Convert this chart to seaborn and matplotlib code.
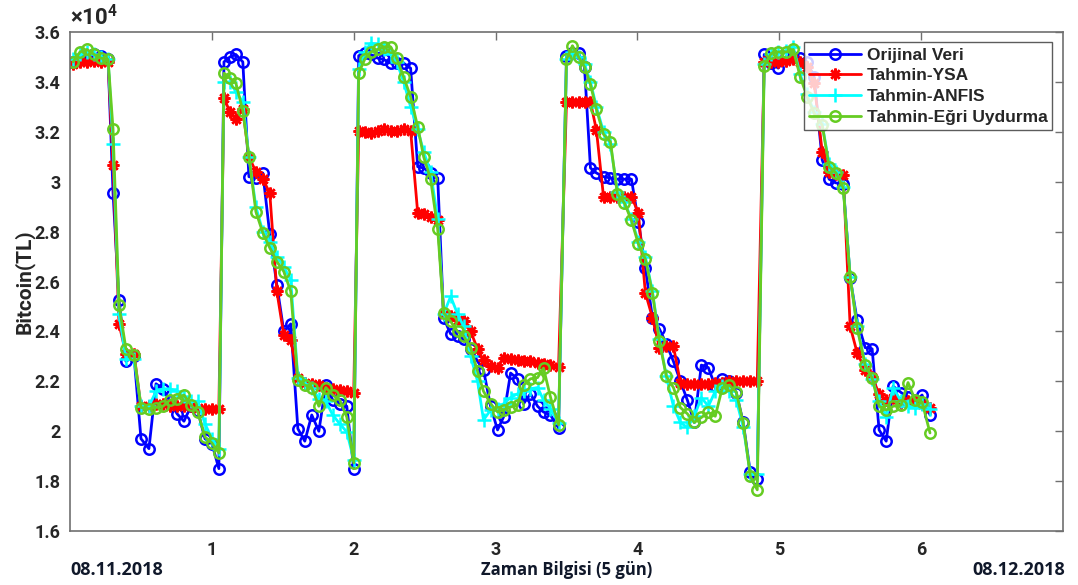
import matplotlib
matplotlib.use("Agg")
import matplotlib.pyplot as plt
import seaborn as sns
import pandas as pd
from matplotlib.ticker import FormatStrFormatter, FixedLocator

# ---- data (time in "day" units, price in x10^4 TL) ----
zaman = [
    0.021, 0.070, 0.120, 0.169, 0.218, 0.268, 0.303, 0.345, 0.394, 0.451, 0.500,
    0.556, 0.606, 0.655, 0.704, 0.754, 0.803, 0.852, 0.901, 0.951, 1.000, 1.049,
    1.085, 1.127, 1.169, 1.218, 1.261, 1.310, 1.359, 1.408, 1.458, 1.507, 1.556,
    1.606, 1.655, 1.704, 1.754, 1.803, 1.852, 1.901, 1.951, 2.000,
    2.035, 2.077, 2.120, 2.169, 2.211, 2.261, 2.303, 2.352, 2.401, 2.451, 2.493,
    2.542, 2.592, 2.634, 2.683, 2.732, 2.775, 2.824, 2.873, 2.915, 2.965, 3.014,
    3.056, 3.106, 3.155, 3.197, 3.246, 3.296, 3.338, 3.387, 3.444,
    3.500, 3.542, 3.585, 3.627, 3.669, 3.711, 3.761, 3.810, 3.859, 3.908, 3.958,
    4.007, 4.056, 4.106, 4.155, 4.204, 4.254, 4.303, 4.352, 4.401, 4.451, 4.500,
    4.549, 4.599, 4.648, 4.697, 4.746, 4.796, 4.845,
    4.894, 4.944, 4.993, 5.049, 5.099, 5.148, 5.197, 5.246, 5.303, 5.352, 5.401,
    5.451, 5.500, 5.549, 5.606, 5.655, 5.704, 5.754, 5.803, 5.859, 5.908, 5.958,
    6.007, 6.063,
]

orijinal = [
    3.48, 3.49, 3.505, 3.51, 3.505, 3.49, 2.955, 2.525, 2.28, 2.30, 1.97,
    1.93, 2.19, 2.17, 2.12, 2.07, 2.04, 2.10, 2.08, 1.97, 1.95, 1.85,
    3.48, 3.50, 3.51, 3.48, 3.02, 3.015, 3.035, 2.79, 2.586, 2.40, 2.43,
    2.01, 1.96, 2.065, 2.00, 2.185, 2.125, 2.11, 2.10, 1.85,
    3.505, 3.515, 3.51, 3.495, 3.49, 3.475, 3.475, 3.475, 3.455, 3.06, 3.055,
    3.035, 3.015, 2.454, 2.39, 2.38, 2.37, 2.33, 2.28, 2.245, 2.10, 2.005,
    2.057, 2.233, 2.21, 2.11, 2.15, 2.10, 2.077, 2.065, 2.013,
    3.505, 3.515, 3.515, 3.46, 3.055, 3.035, 3.02, 3.015, 3.01, 3.01, 3.01,
    2.84, 2.655, 2.455, 2.41, 2.35, 2.28, 2.20, 2.125, 2.035, 2.265, 2.255,
    2.18, 2.21, 2.20, 2.155, 2.035, 1.835, 1.81,
    3.51, 3.475, 3.455, 3.50, 3.50, 3.495, 3.48, 3.42, 3.087, 3.01, 2.995,
    2.99, 2.615, 2.445, 2.335, 2.33, 2.005, 1.96, 2.18, 2.155, 2.137, 2.12,
    2.145, 2.065,
]

tahmin_ysa = [
    3.47, 3.48, 3.48, 3.485, 3.48, 3.48, 3.065, 2.43, 2.31, 2.31, 2.10,
    2.10, 2.11, 2.11, 2.10, 2.10, 2.10, 2.10, 2.095, 2.09, 2.09, 2.09,
    3.335, 3.28, 3.25, 3.29, 3.10, 3.04, 3.01, 2.955, 2.56, 2.385, 2.365,
    2.215, 2.195, 2.19, 2.185, 2.175, 2.17, 2.165, 2.16, 2.155,
    3.205, 3.20, 3.195, 3.205, 3.21, 3.205, 3.205, 3.21, 3.205, 2.875, 2.87,
    2.86, 2.847, 2.47, 2.46, 2.445, 2.44, 2.40, 2.33, 2.285, 2.26, 2.255,
    2.295, 2.29, 2.285, 2.28, 2.28, 2.275, 2.27, 2.265, 2.257,
    3.32, 3.32, 3.32, 3.32, 3.32, 3.207, 2.94, 2.94, 2.94, 2.94, 2.94,
    2.875, 2.555, 2.455, 2.335, 2.34, 2.34, 2.195, 2.19, 2.19, 2.19, 2.19,
    2.195, 2.195, 2.20, 2.20, 2.20, 2.20, 2.20,
    3.48, 3.48, 3.48, 3.485, 3.49, 3.48, 3.46, 3.395, 3.12, 3.04, 3.03,
    3.027, 2.42, 2.315, 2.245, 2.217, 2.15, 2.125, 2.133, 2.113, 2.12, 2.125,
    2.11, 2.093,
]

tahmin_anfis = [
    3.49, 3.51, 3.52, 3.51, 3.50, 3.49, 3.15, 2.47, 2.29, 2.29, 2.10,
    2.10, 2.16, 2.17, 2.17, 2.16, 2.14, 2.12, 2.12, 2.03, 1.97, 1.93,
    3.40, 3.40, 3.36, 3.32, 3.10, 2.90, 2.80, 2.76, 2.70, 2.66, 2.605,
    2.215, 2.19, 2.175, 2.13, 2.12, 2.065, 2.03, 1.997, 1.885,
    3.45, 3.52, 3.555, 3.55, 3.53, 3.51, 3.48, 3.40, 3.30, 3.21, 3.12,
    3.04, 2.85, 2.47, 2.54, 2.47, 2.42, 2.30, 2.20, 2.045, 2.085, 2.09,
    2.11, 2.135, 2.15, 2.16, 2.17, 2.175, 2.125, 2.09, 2.033,
    3.49, 3.52, 3.50, 3.47, 3.40, 3.30, 3.20, 3.15, 2.96, 2.92, 2.85,
    2.76, 2.70, 2.56, 2.37, 2.22, 2.10, 2.035, 2.015, 2.06, 2.135, 2.10,
    2.16, 2.18, 2.16, 2.125, 2.017, 1.83, 1.83,
    3.47, 3.51, 3.52, 3.525, 3.54, 3.43, 3.35, 3.28, 3.23, 3.07, 3.04,
    2.98, 2.62, 2.42, 2.27, 2.21, 2.12, 2.057, 2.175, 2.12, 2.10, 2.093,
    2.11, 2.09,
]

tahmin_egri = [
    3.48, 3.52, 3.53, 3.51, 3.495, 3.49, 3.21, 2.505, 2.33, 2.305, 2.095,
    2.09, 2.095, 2.10, 2.125, 2.13, 2.145, 2.105, 2.077, 1.977, 1.953, 1.913,
    3.435, 3.415, 3.395, 3.285, 3.10, 2.88, 2.795, 2.735, 2.68, 2.64, 2.56,
    2.205, 2.185, 2.175, 2.10, 2.175, 2.145, 2.125, 2.057, 1.873,
    3.435, 3.49, 3.52, 3.53, 3.54, 3.54, 3.495, 3.42, 3.34, 3.22, 3.10,
    3.01, 2.81, 2.474, 2.44, 2.40, 2.38, 2.335, 2.24, 2.16, 2.11, 2.077,
    2.085, 2.097, 2.105, 2.185, 2.21, 2.215, 2.253, 2.137, 2.025,
    3.49, 3.545, 3.50, 3.46, 3.39, 3.29, 3.19, 3.16, 2.95, 2.915, 2.845,
    2.75, 2.69, 2.555, 2.36, 2.22, 2.175, 2.095, 2.07, 2.035, 2.055, 2.075,
    2.06, 2.175, 2.185, 2.157, 2.033, 1.82, 1.765,
    3.465, 3.515, 3.52, 3.52, 3.53, 3.42, 3.34, 3.275, 3.227, 3.06, 3.035,
    2.975, 2.62, 2.415, 2.265, 2.213, 2.10, 2.085, 2.10, 2.105, 2.195, 2.125,
    2.117, 1.993,
]

seri_adlari = ["Orijinal Veri", "Tahmin-YSA", "Tahmin-ANFIS", "Tahmin-Eğri Uydurma"]
x_ticks = [1, 2, 3, 4, 5, 6]
y_ticks = [1.6, 1.8, 2.0, 2.2, 2.4, 2.6, 2.8, 3.0, 3.2, 3.4, 3.6]
baslangic_tarihi = "08.11.2018"
bitis_tarihi = "08.12.2018"

# ---- style ----
sns.set_theme(style="white")
plt.rcParams["font.family"] = ["Roboto", "Liberation Sans", "DejaVu Sans"]
plt.rcParams["font.weight"] = "bold"
plt.rcParams["mathtext.fontset"] = "custom"
plt.rcParams["mathtext.rm"] = "Roboto:bold"
plt.rcParams["mathtext.bf"] = "Roboto:bold"

fig = plt.figure(figsize=(10.78, 5.85), dpi=100)
ax = fig.add_axes([0.065, 0.0923, 0.921, 0.853])

series = [orijinal, tahmin_ysa, tahmin_anfis, tahmin_egri]
colors = ["#0000FF", "#FF0000", "#00FFFF", "#66CC22"]
markers = ["o", (8, 2, 0), "+", "o"]
msizes = [7.5, 8.5, 9.5, 7.5]

for name, vals, c, m, ms in zip(seri_adlari, series, colors, markers, msizes):
    df = pd.DataFrame({"Zaman": zaman, "Deger": vals})
    sns.lineplot(data=df, x="Zaman", y="Deger", ax=ax, color=c, lw=2.0,
                 marker=m, markersize=ms, markerfacecolor="none",
                 markeredgecolor=c, markeredgewidth=1.8, label=name,
                 sort=False, estimator=None)

ax.set_xlim(0, 7)
ax.set_ylim(1.6, 3.6)
ax.xaxis.set_major_locator(FixedLocator(x_ticks))
ax.yaxis.set_major_locator(FixedLocator(y_ticks))
ax.yaxis.set_major_formatter(FormatStrFormatter("%g"))
ax.tick_params(direction="in", length=6, width=1, colors="#707070",
               top=True, right=True, labelsize=13, pad=7)
for lab in ax.get_xticklabels() + ax.get_yticklabels():
    lab.set_fontweight("bold")
    lab.set_color("#262626")
for s in ax.spines.values():
    s.set_color("#707070")
    s.set_linewidth(1.2)

ax.set_xlabel("")
ax.set_ylabel("Bitcoin(TL)", fontsize=15, fontweight="bold", color="#262626")
ax.yaxis.set_label_coords(-0.036, 0.5)

ax.text(0.5, -0.078, "Zaman Bilgisi (5 gün)", transform=ax.transAxes,
        ha="center", va="center", fontsize=12, fontweight="bold",
        family=["Open Sans", "DejaVu Sans"], color="#10182a")
ax.text(0.0, -0.078, baslangic_tarihi, transform=ax.transAxes,
        ha="left", va="center", fontsize=13, fontweight="bold",
        family=["Open Sans", "DejaVu Sans"], color="#10182a")
ax.text(1.002, -0.078, bitis_tarihi, transform=ax.transAxes,
        ha="right", va="center", fontsize=13, fontweight="bold",
        family=["Open Sans", "DejaVu Sans"], color="#10182a")
ax.text(0.0, 1.004, r"$\times\mathbf{10^{4}}$", transform=ax.transAxes,
        ha="left", va="bottom", fontsize=16, color="#262626")

leg = ax.legend(loc="upper right", prop={"weight": "bold", "size": 12.5,
                                         "family": ["Liberation Sans", "DejaVu Sans"]},
                frameon=True, fancybox=False, edgecolor="#333333",
                handlelength=3.0, borderaxespad=0.6, labelspacing=0.32,
                handletextpad=0.3, borderpad=0.3)
leg.get_frame().set_linewidth(1.0)

fig.savefig("out.png", dpi=100)
